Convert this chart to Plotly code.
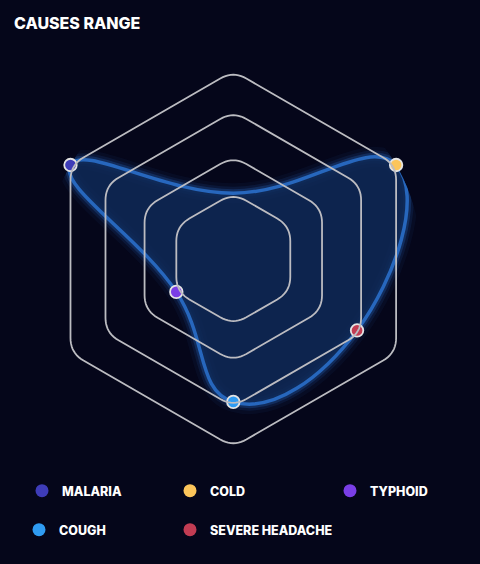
import math
import plotly.graph_objects as go

# ---------------- data ----------------
categories = ["OTHER", "COLD", "SEVERE HEADACHE", "COUGH", "TYPHOID", "MALARIA"]
values = [35, 100, 76, 76, 35, 100]
legend_items = ["MALARIA", "COLD", "TYPHOID", "COUGH", "SEVERE HEADACHE"]
marker_colors = {
    "MALARIA": "#3e3cb8",
    "COLD": "#fcc55a",
    "TYPHOID": "#7a3ee6",
    "COUGH": "#2f9bf2",
    "SEVERE HEADACHE": "#c23c53",
}
ring_values = [35, 54.5, 78.5, 100]
r_max = 100

# ---------------- styles ----------------
BG = "#05061a"
GRID = "#bcbcc1"
LINE = "#2767bd"
FONT = "Inter"

W, H = 480, 564
cx, cy, rad = 233.3, 259.0, 188.0
CORNER = 8.0  # corner rounding of the grid hexagons, in radial units

# legend placement (pixel position of each entry's symbol centre)
legend_pos = {
    "MALARIA": (42, 491),
    "COLD": (190, 491),
    "TYPHOID": (350, 491),
    "COUGH": (39, 530),
    "SEVERE HEADACHE": (190, 530),
}

n = len(categories)
angles = [i * 360.0 / n for i in range(n)]          # category -> angle (deg)
theta_closed = angles + [angles[0]]
r_closed = values + [values[0]]


def rounded_polygon(R):
    """Rounded regular polygon (grid ring) expressed in polar coordinates."""
    verts = []
    for a in angles:
        phi = math.radians(90 - a)
        verts.append((R * math.cos(phi), R * math.sin(phi)))

    def toward(a, b, d):
        dx, dy = b[0] - a[0], b[1] - a[1]
        L = math.hypot(dx, dy)
        return (a[0] + dx / L * d, a[1] + dy / L * d)

    rs, ts = [], []
    for k in range(n):
        v, p, q = verts[k], verts[k - 1], verts[(k + 1) % n]
        p0 = toward(v, p, CORNER)
        p2 = toward(v, q, CORNER)
        for s in range(11):
            t = s / 10
            x = (1 - t) ** 2 * p0[0] + 2 * (1 - t) * t * v[0] + t ** 2 * p2[0]
            y = (1 - t) ** 2 * p0[1] + 2 * (1 - t) * t * v[1] + t ** 2 * p2[1]
            rs.append(math.hypot(x, y))
            ts.append(90 - math.degrees(math.atan2(y, x)))
    rs.append(rs[0])
    ts.append(ts[0])
    return rs, ts


fig = go.Figure()

# glow layers
for w, a in [(20, 0.05), (13, 0.10), (8, 0.2)]:
    fig.add_trace(go.Scatterpolar(
        r=r_closed, theta=theta_closed, mode="lines",
        line=dict(color=f"rgba(50,130,235,{a})", width=w, shape="spline", smoothing=1.3),
        hoverinfo="skip", showlegend=False,
    ))

# main area
fig.add_trace(go.Scatterpolar(
    r=r_closed, theta=theta_closed, mode="lines", fill="toself",
    fillcolor="rgba(15,42,88,0.85)",
    line=dict(color=LINE, width=3.5, shape="spline", smoothing=1.3),
    text=categories + [categories[0]], hoverinfo="text",
    showlegend=False,
))

# markers at data points (the unlabeled top category has none)
idx = [i for i, c in enumerate(categories) if c in marker_colors]
fig.add_trace(go.Scatterpolar(
    r=[values[i] for i in idx], theta=[angles[i] for i in idx], mode="markers",
    marker=dict(size=12.5, color=[marker_colors[categories[i]] for i in idx],
                line=dict(color="#e4e4e4", width=1.8)),
    text=[categories[i] for i in idx], hoverinfo="text+r",
    showlegend=False,
))

# grid rings drawn on top of everything
for R in ring_values:
    rs, ts = rounded_polygon(R)
    fig.add_trace(go.Scatterpolar(
        r=rs, theta=ts, mode="lines",
        line=dict(color=GRID, width=1.8),
        hoverinfo="skip", showlegend=False,
    ))

# legend entries, each in its own legend box so it can be placed exactly
legend_layout = {}
for k, name in enumerate(legend_items):
    key = "legend" if k == 0 else f"legend{k + 1}"
    fig.add_trace(go.Scatterpolar(
        r=[None], theta=[0], mode="markers", name=name,
        marker=dict(size=13, color=marker_colors[name]),
        legend=key,
    ))
    px, py = legend_pos[name]
    legend_layout[key] = dict(
        x=(px - 20) / W, y=(H - py) / H, xanchor="left", yanchor="middle",
        orientation="h",
        font=dict(family=FONT, size=12.5, color="#ffffff", weight=800),
        bgcolor="rgba(0,0,0,0)", itemclick=False, itemdoubleclick=False,
    )

fig.update_layout(
    width=W, height=H, autosize=False,
    margin=dict(l=0, r=0, t=0, b=0),
    paper_bgcolor=BG, plot_bgcolor=BG,
    title=dict(text="CAUSES RANGE", x=14 / W, xanchor="left", xref="paper",
               y=1 - 23 / H, yanchor="middle", yref="container",
               font=dict(family=FONT, size=16, color="#ffffff", weight=800)),
    polar=dict(
        bgcolor="rgba(0,0,0,0)",
        domain=dict(x=[(cx - rad) / W, (cx + rad) / W],
                    y=[(H - cy - rad) / H, (H - cy + rad) / H]),
        radialaxis=dict(range=[0, r_max], showticklabels=False, ticks="",
                        showline=False, showgrid=False),
        angularaxis=dict(direction="clockwise", rotation=90, thetaunit="degrees",
                         showticklabels=False, ticks="", showgrid=False,
                         showline=False),
    ),
    showlegend=True,
    **legend_layout,
)

fig.write_html("out.html")
